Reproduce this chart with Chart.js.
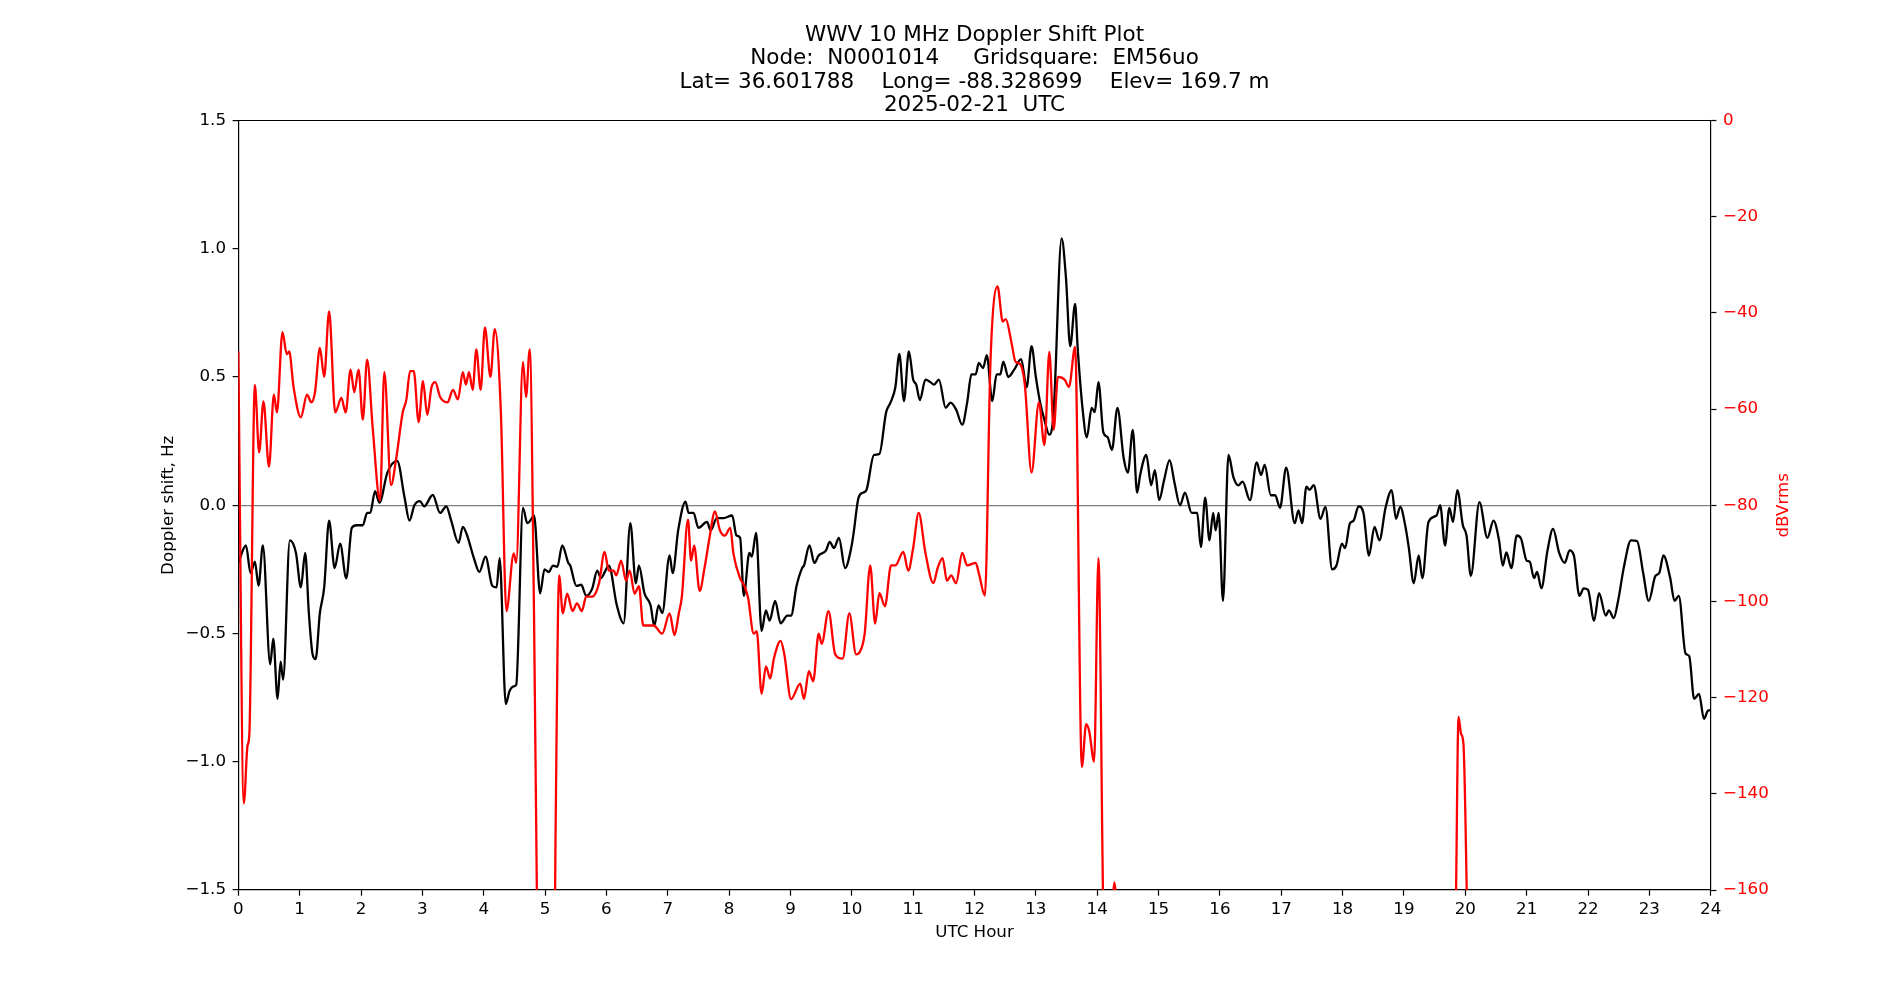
<!DOCTYPE html>
<html lang="en">
  <head>
    <meta charset="UTF-8" />
    <title>WWV 10 MHz Doppler Shift Plot</title>
    <script src="https://cdn.jsdelivr.net/npm/chart.js"></script>
    <style>
      body { margin: 0; background: #fff; }
      canvas { display: block; }
    </style>
  </head>
  <body>
    <canvas id="dopplerChart" width="1900" height="1000"></canvas>
    <script>
      // title block, one entry per line
      const titleLines = [
        "WWV 10 MHz Doppler Shift Plot",
        "Node:  N0001014     Gridsquare:  EM56uo",
        "Lat= 36.601788    Long= -88.328699    Elev= 169.7 m",
        "2025-02-21  UTC",
      ];

      // tick values
      const hourTicks = [0, 1, 2, 3, 4, 5, 6, 7, 8, 9, 10, 11, 12, 13, 14, 15, 16, 17, 18, 19, 20, 21, 22, 23, 24];
      const shiftTicks = [-1.5, -1.0, -0.5, 0.0, 0.5, 1.0, 1.5];
      const dbTicks = [-160, -140, -120, -100, -80, -60, -40, -20, 0];

      // Doppler shift (Hz) vs UTC hour
      const dopplerHours = [
        0.00, 0.125, 0.20, 0.27, 0.33, 0.40, 0.52, 0.57, 0.64, 0.69,
        0.73, 0.84, 0.94, 1.02, 1.09, 1.15, 1.21, 1.26, 1.33, 1.40,
        1.48, 1.57, 1.66, 1.76, 1.85, 1.93, 2.03, 2.10, 2.15, 2.23,
        2.30, 2.43, 2.59, 2.71, 2.79, 2.87, 2.96, 3.03, 3.17, 3.29,
        3.39, 3.47, 3.59, 3.66, 3.73, 3.84, 3.93, 4.03, 4.14, 4.21,
        4.26, 4.36, 4.42, 4.49, 4.53, 4.64, 4.71, 4.76, 4.82, 4.92,
        4.99, 5.06, 5.13, 5.20, 5.28, 5.38, 5.41, 5.51, 5.59, 5.67,
        5.77, 5.85, 5.91, 6.04, 6.17, 6.28, 6.39, 6.48, 6.53, 6.62,
        6.72, 6.78, 6.85, 6.91, 7.03, 7.08, 7.17, 7.29, 7.34, 7.42,
        7.50, 7.64, 7.70, 7.80, 7.91, 8.05, 8.12, 8.18, 8.24, 8.33,
        8.37, 8.44, 8.53, 8.60, 8.66, 8.75, 8.84, 8.95, 9.01, 9.10,
        9.19, 9.22, 9.31, 9.39, 9.46, 9.58, 9.64, 9.71, 9.79, 9.89,
        9.99, 10.03, 10.11, 10.19, 10.24, 10.36, 10.45, 10.56, 10.63, 10.71,
        10.775, 10.85, 10.93, 11.00, 11.05, 11.11, 11.20, 11.28, 11.34, 11.42,
        11.53, 11.61, 11.70, 11.80, 11.88, 11.95, 12.02, 12.07, 12.14, 12.20,
        12.29, 12.36, 12.42, 12.47, 12.55, 12.65, 12.76, 12.85, 12.93, 13.00,
        13.07, 13.14, 13.22, 13.29, 13.42, 13.49, 13.56, 13.64, 13.68, 13.76,
        13.83, 13.91, 13.96, 14.02, 14.10, 14.17, 14.24, 14.33, 14.43, 14.50,
        14.58, 14.65, 14.70, 14.80, 14.88, 14.94, 15.01, 15.09, 15.18, 15.26,
        15.35, 15.43, 15.54, 15.63, 15.69, 15.76, 15.83, 15.89, 15.93, 15.98,
        16.05, 16.14, 16.22, 16.30, 16.37, 16.49, 16.60, 16.67, 16.73, 16.83,
        16.90, 16.98, 17.08, 17.22, 17.28, 17.34, 17.41, 17.46, 17.53, 17.64,
        17.72, 17.83, 17.90, 17.99, 18.04, 18.12, 18.18, 18.26, 18.34, 18.43,
        18.52, 18.60, 18.70, 18.80, 18.87, 18.94, 19.02, 19.08, 19.16, 19.24,
        19.30, 19.40, 19.53, 19.59, 19.67, 19.74, 19.80, 19.87, 19.96, 20.02,
        20.09, 20.23, 20.36, 20.46, 20.55, 20.61, 20.67, 20.75, 20.84, 20.91,
        21.00, 21.05, 21.12, 21.17, 21.24, 21.34, 21.43, 21.53, 21.62, 21.70,
        21.77, 21.86, 21.93, 22.00, 22.10, 22.18, 22.29, 22.34, 22.42, 22.49,
        22.59, 22.70, 22.80, 22.90, 22.99, 23.10, 23.16, 23.23, 23.34, 23.41,
        23.48, 23.59, 23.65, 23.73, 23.81, 23.89, 23.96, 24.00,
      ];
      const dopplerShift = [
        -0.225, -0.157, -0.265, -0.22, -0.314, -0.157, -0.62, -0.52, -0.755, -0.61,
        -0.68, -0.137, -0.186, -0.32, -0.186, -0.42, -0.58, -0.60, -0.42, -0.32,
        -0.06, -0.245, -0.15, -0.285, -0.088, -0.078, -0.078, -0.03, -0.03, 0.055,
        0.01, 0.127, 0.173, 0.03, -0.06, 0.0, 0.016, -0.004, 0.04, -0.03,
        -0.004, -0.06, -0.147, -0.084, -0.118, -0.206, -0.26, -0.20, -0.314, -0.32,
        -0.206, -0.775, -0.725, -0.706, -0.70, -0.01, -0.07, -0.06, -0.04, -0.343,
        -0.25, -0.26, -0.235, -0.24, -0.157, -0.225, -0.235, -0.314, -0.31, -0.353,
        -0.324, -0.255, -0.284, -0.235, -0.39, -0.46, -0.07, -0.304, -0.235, -0.343,
        -0.39, -0.47, -0.39, -0.42, -0.196, -0.265, -0.098, 0.014, -0.03, -0.03,
        -0.088, -0.065, -0.098, -0.05, -0.05, -0.04, -0.118, -0.127, -0.353, -0.186,
        -0.20, -0.108, -0.49, -0.41, -0.45, -0.373, -0.46, -0.43, -0.43, -0.314,
        -0.245, -0.235, -0.157, -0.225, -0.196, -0.176, -0.143, -0.167, -0.127, -0.245,
        -0.167, -0.108, 0.03, 0.05, 0.06, 0.196, 0.20, 0.363, 0.40, 0.46,
        0.59, 0.406, 0.60, 0.49, 0.47, 0.41, 0.49, 0.48, 0.47, 0.49,
        0.38, 0.40, 0.373, 0.314, 0.40, 0.51, 0.51, 0.555, 0.535, 0.585,
        0.406, 0.51, 0.51, 0.56, 0.50, 0.53, 0.57, 0.46, 0.62, 0.50,
        0.40, 0.333, 0.275, 0.363, 1.04, 0.89, 0.62, 0.785, 0.62, 0.38,
        0.265, 0.38, 0.363, 0.48, 0.284, 0.265, 0.216, 0.38, 0.186, 0.127,
        0.294, 0.049, 0.118, 0.196, 0.078, 0.137, 0.02, 0.098, 0.176, 0.088,
        0.0, 0.049, -0.03, -0.03, -0.163, 0.03, -0.137, -0.03, -0.098, -0.03,
        -0.373, 0.196, 0.11, 0.078, 0.092, 0.02, 0.167, 0.118, 0.157, 0.039,
        0.039, -0.01, 0.147, -0.07, -0.02, -0.07, 0.073, 0.06, 0.078, -0.053,
        -0.006, -0.25, -0.235, -0.15, -0.167, -0.07, -0.06, -0.004, -0.03, -0.196,
        -0.084, -0.137, -0.01, 0.059, -0.053, -0.006, -0.078, -0.167, -0.304, -0.196,
        -0.284, -0.065, -0.04, 0.0, -0.157, -0.01, -0.065, 0.059, -0.078, -0.118,
        -0.275, 0.012, -0.127, -0.06, -0.137, -0.235, -0.184, -0.245, -0.118, -0.131,
        -0.216, -0.22, -0.284, -0.26, -0.324, -0.176, -0.092, -0.186, -0.225, -0.176,
        -0.196, -0.353, -0.324, -0.33, -0.45, -0.343, -0.43, -0.41, -0.44, -0.373,
        -0.235, -0.137, -0.14, -0.265, -0.373, -0.275, -0.265, -0.196, -0.284, -0.373,
        -0.353, -0.578, -0.588, -0.755, -0.735, -0.833, -0.80, -0.80,
      ];

      // received level (dBVrms); values under -160 are signal dropouts below the axis
      const powerHours = [
        0.00, 0.09, 0.15, 0.18, 0.27, 0.34, 0.41, 0.50, 0.58, 0.63,
        0.72, 0.79, 0.83, 0.90, 1.02, 1.12, 1.19, 1.25, 1.33, 1.40,
        1.48, 1.58, 1.68, 1.75, 1.83, 1.89, 1.96, 2.03, 2.10, 2.19,
        2.31, 2.38, 2.49, 2.57, 2.68, 2.74, 2.80, 2.86, 2.94, 3.01,
        3.08, 3.15, 3.21, 3.29, 3.41, 3.50, 3.58, 3.66, 3.71, 3.76,
        3.82, 3.88, 3.95, 4.02, 4.11, 4.18, 4.28, 4.37, 4.49, 4.53,
        4.64, 4.69, 4.75, 4.82, 4.87, 4.92, 5.12, 5.17, 5.23, 5.29,
        5.36, 5.45, 5.52, 5.60, 5.67, 5.77, 5.88, 5.97, 6.04, 6.12,
        6.16, 6.24, 6.32, 6.38, 6.46, 6.53, 6.60, 6.77, 6.91, 7.03,
        7.11, 7.18, 7.23, 7.33, 7.38, 7.43, 7.52, 7.60, 7.68, 7.77,
        7.85, 7.93, 8.02, 8.07, 8.18, 8.25, 8.31, 8.40, 8.45, 8.53,
        8.60, 8.67, 8.73, 8.84, 8.90, 9.01, 9.16, 9.22, 9.30, 9.37,
        9.46, 9.51, 9.62, 9.73, 9.85, 9.96, 10.07, 10.13, 10.21, 10.30,
        10.38, 10.45, 10.54, 10.64, 10.71, 10.84, 10.92, 11.00, 11.09, 11.20,
        11.33, 11.40, 11.48, 11.55, 11.62, 11.70, 11.80, 11.88, 12.02, 12.07,
        12.17, 12.26, 12.375, 12.46, 12.51, 12.60, 12.67, 12.74, 12.82, 12.93,
        13.05, 13.14, 13.22, 13.29, 13.36, 13.47, 13.54, 13.64, 13.75, 13.82,
        13.87, 13.95, 14.02, 14.10, 14.16, 14.22, 14.28, 14.34, 14.42, 17.00,
        19.00, 19.80, 19.85, 19.89, 19.93, 19.97, 20.03, 20.10, 22.00, 24.00,
      ];
      const powerDbv = [
        -48, -142, -130, -127.6, -55, -69, -58.4, -72, -57, -60.7,
        -44, -48.6, -48, -55.4, -61.7, -57, -58.6, -56.5, -47.3, -53.3,
        -39.7, -60.7, -57.7, -60.7, -51.8, -56.5, -51.8, -62.2, -49.7, -63.8,
        -79, -52.3, -75.8, -70.6, -60.7, -58, -52.1, -52.1, -62.7, -54.2,
        -61.2, -55.4, -54.4, -57.5, -58.6, -56, -58, -52.3, -54.9, -52.3,
        -56, -47.6, -56, -43, -53.3, -43.4, -60.7, -102, -90, -92,
        -50.2, -57.5, -47.6, -102.5, -165, -220, -220, -150, -94.6, -102.5,
        -98.4, -102, -100.4, -102, -99, -99, -96.2, -89.7, -93.6, -93.6,
        -94.6, -91.5, -95.7, -93.6, -98.4, -96.8, -105, -105, -106.7, -102.5,
        -107, -102.5, -99, -83, -91.5, -88.4, -97.8, -93, -86.8, -81.3,
        -85.2, -86.3, -84.7, -90, -95.2, -96.8, -99.3, -106.7, -106.2, -119.2,
        -113.5, -116, -111.9, -108.2, -111, -120.3, -117.1, -120.3, -114.5, -116.6,
        -106.7, -108.8, -102, -111, -111.9, -102.5, -111, -110.5, -106.7, -92.5,
        -104.6, -98.3, -101, -92.5, -92.5, -89.7, -93.6, -88.9, -81.6, -89.9,
        -96.2, -93, -91, -95.7, -94.6, -96.2, -89.9, -92.5, -92, -94.1,
        -98.8, -50.2, -34.5, -41.8, -41.3, -46, -50.2, -50.6, -54.9, -73.2,
        -58.6, -67.5, -48.1, -64.3, -53.3, -53.9, -55.4, -47.1, -134.4, -125.5,
        -127, -133.3, -91, -165, -185, -172, -158.4, -172, -220, -220,
        -220, -220, -160, -124, -127.5, -129.7, -165, -220, -220, -220,
      ];

      const FONT = "DejaVu Sans";
      const tickFont = { family: FONT, size: 16.7 };
      const minus = (s) => s.replace("-", "\u2212");
      const useTicks = (list) => (scale) => {
        scale.ticks = list.map((v) => ({ value: v }));
      };

      // top spine and the right-hand axis label (reads bottom to top like matplotlib)
      const framePlugin = {
        id: "frame",
        afterDraw(chart) {
          const { ctx, chartArea: a } = chart;
          ctx.save();
          ctx.strokeStyle = "#000";
          ctx.lineWidth = 1.2;
          ctx.beginPath();
          ctx.moveTo(a.left, a.top);
          ctx.lineTo(a.right, a.top);
          ctx.stroke();
          ctx.translate(a.right + 73, (a.top + a.bottom) / 2);
          ctx.rotate(-Math.PI / 2);
          ctx.fillStyle = "red";
          ctx.font = "16.7px '" + FONT + "'";
          ctx.textAlign = "center";
          ctx.textBaseline = "middle";
          ctx.fillText("dBVrms", 0, 0);
          ctx.restore();
        },
      };

      const ctx = document.getElementById("dopplerChart").getContext("2d");
      new Chart(ctx, {
        type: "line",
        data: {
          datasets: [
            {
              label: "dBVrms",
              data: powerHours.map((h, i) => ({ x: h, y: powerDbv[i] })),
              yAxisID: "y2",
              borderColor: "#ff0000",
              borderWidth: 2.3,
              pointRadius: 0,
              cubicInterpolationMode: "monotone",
              order: 0,
            },
            {
              label: "Doppler shift",
              data: dopplerHours.map((h, i) => ({ x: h, y: dopplerShift[i] })),
              yAxisID: "y",
              borderColor: "#000000",
              borderWidth: 2.3,
              pointRadius: 0,
              cubicInterpolationMode: "monotone",
              order: 1,
            },
          ],
        },
        options: {
          responsive: false,
          animation: false,
          layout: { padding: { left: 159, right: 110, top: 24, bottom: 57 } },
          plugins: {
            legend: { display: false },
            tooltip: { enabled: false },
            title: {
              display: true,
              text: titleLines,
              color: "#000",
              font: { family: FONT, size: 21.5, weight: "normal", lineHeight: "23.2px" },
              padding: { top: 0, bottom: 3.7 },
            },
          },
          scales: {
            x: {
              type: "linear",
              min: 0,
              max: 24,
              afterBuildTicks: useTicks(hourTicks),
              afterFit: (s) => { s.height = 53; },
              ticks: { font: tickFont, color: "#000", padding: 4, maxRotation: 0, autoSkip: false },
              grid: { drawOnChartArea: false, tickLength: 5.7, tickColor: "#000", tickWidth: 1.2 },
              border: { color: "#000", width: 1.2 },
              title: { display: true, text: "UTC Hour", color: "#000", font: tickFont, padding: 0 },
            },
            y: {
              position: "left",
              min: -1.5,
              max: 1.5,
              afterBuildTicks: useTicks(shiftTicks),
              afterFit: (s) => { s.width = 79.3; },
              ticks: {
                font: tickFont,
                color: "#000",
                padding: 6.6,
                callback: (v) => minus(Number(v).toFixed(1)),
              },
              grid: {
                color: (c) => (c.tick && c.tick.value === 0 ? "#808080" : "rgba(0,0,0,0)"),
                lineWidth: 1.2,
                tickLength: 5.7,
                tickColor: "#000",
                tickWidth: 1.2,
              },
              border: { color: "#000", width: 1.2 },
              title: { display: true, text: "Doppler shift, Hz", color: "#000", font: tickFont, padding: 0 },
            },
            y2: {
              position: "right",
              min: -160,
              max: 0,
              afterBuildTicks: useTicks(dbTicks),
              afterFit: (s) => { s.width = 79.3; },
              ticks: {
                font: tickFont,
                color: "#ff0000",
                padding: 6.6,
                callback: (v) => minus(String(v)),
              },
              grid: { drawOnChartArea: false, tickLength: 5.7, tickColor: "#000", tickWidth: 1.2 },
              border: { color: "#000", width: 1.2 },
            },
          },
        },
        plugins: [framePlugin],
      });
    </script>
  </body>
</html>
